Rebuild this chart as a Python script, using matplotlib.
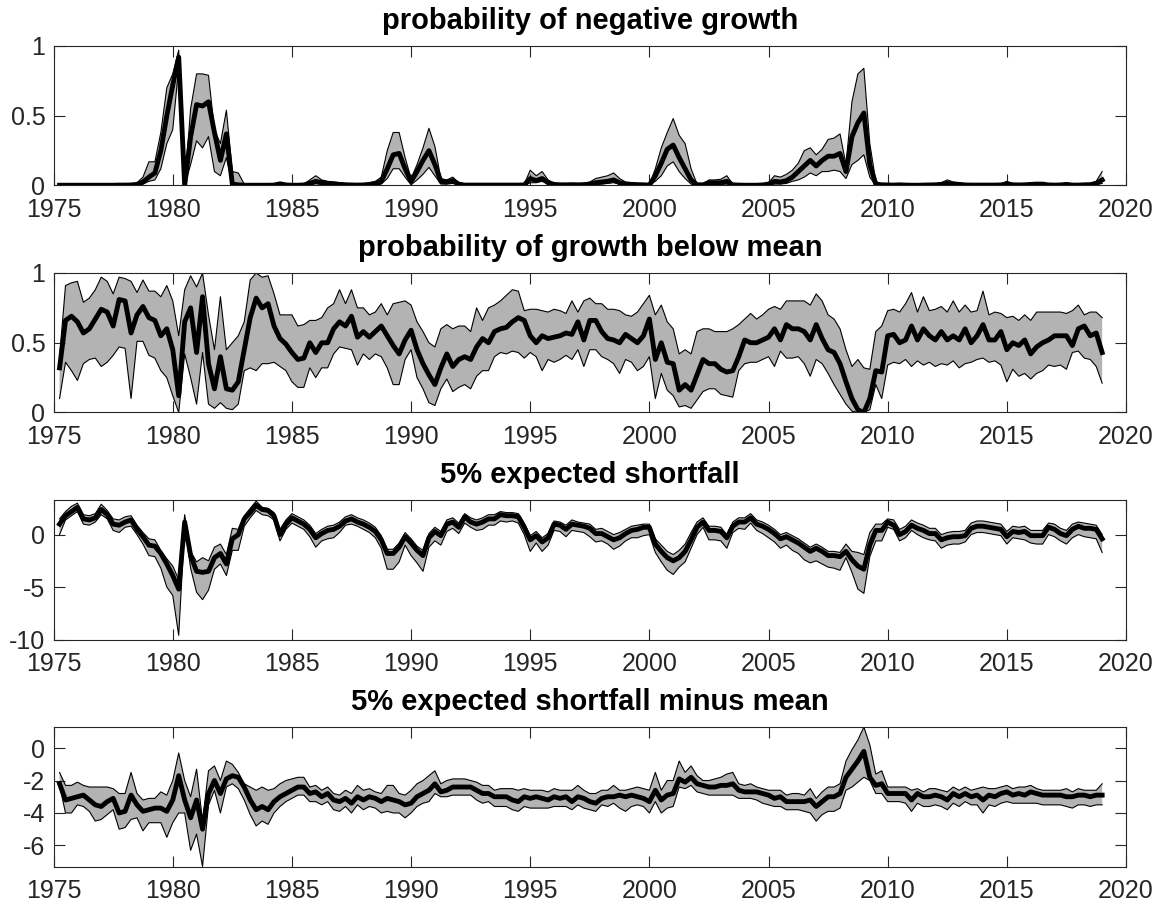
# -*- coding: utf-8 -*-
# Quarterly growth-at-risk measures: median with 68% bands
import matplotlib.pyplot as plt
import numpy as np

# quarterly dates 1975Q2 .. 2019Q1
dates = 1975.25 + 0.25*np.arange(176)

# probability of negative growth
p1_med = [.002,.002,.002,.002, .002,.002,.002,.002, .002,.002,.003,.003, .004,.008,.025,.06,
          .09,.25,.5,.72, .92,.0,.35,.58, .57,.6,.38,.18, .37,.01,.005,.002,
          .002,.002,.002,.002, .003,.012,.004,.002, .002,.004,.015,.03, .02,.015,.012,.008,
          .005,.004,.003,.004, .008,.012,.03,.12, .22,.23,.12,.03, .1,.18,.25,.15,
          .03,.025,.035,.01, .003,.003,.003,.003, .003,.003,.003,.003, .003,.003,.004,.05,
          .035,.05,.02,.008, .005,.005,.006,.005, .006,.01,.02,.025, .03,.04,.02,.01,
          .008,.006,.005,.003, .07,.16,.26,.29, .2,.12,.04,.005, .005,.02,.02,.02,
          .03,.005,.003,.002, .002,.002,.004,.01, .03,.025,.035,.06, .1,.14,.18,.14,
          .18,.21,.21,.23, .1,.35,.45,.52, .15,.01,.005,.004, .003,.005,.003,.002,
          .002,.003,.004,.005, .008,.015,.01,.008, .004,.003,.003,.003, .003,.003,.004,.012,
          .005,.004,.005,.008, .01,.01,.004,.003, .004,.008,.003,.003, .005,.006,.015,.04]
p1_lo = [0,0,0,0, 0,0,0,0, 0,0,0,0, .001,.003,.01,.03,
         .04,.12,.3,.4, .85,.0,.15,.32, .27,.35,.1,.07, .2,0,0,0,
         0,0,0,0, 0,.005,0,0, 0,0,.005,.012, .008,.006,.004,.002,
         0,0,0,0, .002,.004,.01,.05, .12,.12,.06,.005, .04,.08,.13,.07,
         .01,.01,.015,.002, 0,0,0,0, 0,0,0,0, 0,0,0,.02,
         .02,.03,.01,.002, 0,0,0,0, 0,.003,.008,.01, .015,.02,.01,.004,
         .002,.002,.002,0, .03,.07,.14,.17, .1,.05,.01,0, 0,.008,.008,.008,
         .01,0,0,0, 0,0,0,.004, .01,.01,.015,.03, .04,.06,.09,.07,
         .1,.1,.11,.1, .05,.15,.18,.22, .06,0,0,0, 0,0,0,0,
         0,0,0,0, .002,.005,.003,.002, 0,0,0,0, 0,0,0,.004,
         0,0,0,0, .003,.003,0,0, 0,.002,0,0, 0,0,.005,.015]
p1_hi = [.005,.005,.005,.005, .005,.005,.005,.005, .005,.005,.006,.006, .008,.02,.06,.17,
         .17,.38,.7,.8, .97,.0,.55,.8, .8,.79,.4,.3, .54,.1,.09,.01,
         .005,.005,.005,.005, .006,.02,.008,.005, .005,.01,.04,.07, .04,.03,.025,.02,
         .015,.01,.008,.01, .02,.03,.06,.25, .38,.38,.2,.05, .15,.27,.41,.28,
         .05,.04,.06,.02, .008,.008,.008,.008, .008,.008,.008,.008, .008,.008,.01,.11,
         .07,.1,.04,.015, .012,.012,.015,.012, .015,.025,.05,.06, .07,.09,.05,.025,
         .02,.015,.012,.006, .12,.27,.38,.48, .36,.3,.12,.01, .01,.04,.04,.045,
         .07,.01,.005,.005, .005,.005,.01,.02, .07,.06,.08,.11, .16,.25,.27,.22,
         .26,.33,.34,.37, .15,.6,.8,.84, .3,.03,.01,.008, .008,.012,.008,.006,
         .006,.008,.01,.012, .02,.04,.025,.02, .01,.008,.008,.008, .008,.008,.01,.03,
         .012,.01,.012,.015, .02,.02,.01,.008, .01,.018,.008,.008, .012,.015,.03,.1]

# probability of growth below mean
p2_med = [.32,.66,.69,.65, .57,.6,.67,.74, .72,.62,.81,.8, .57,.7,.76,.68,
          .66,.55,.6,.45, .12,.65,.75,.43, .83,.35,.17,.4, .17,.16,.22,.45,
          .68,.82,.75,.78, .62,.53,.49,.43, .38,.39,.5,.43, .5,.5,.6,.65,
          .62,.69,.54,.58, .54,.58,.62,.55, .48,.42,.52,.59, .45,.35,.27,.2,
          .32,.42,.33,.38, .4,.38,.47,.53, .5,.58,.6,.61, .65,.68,.66,.55,
          .5,.55,.53,.54, .55,.57,.56,.65, .52,.66,.66,.58, .53,.52,.5,.56,
          .53,.5,.55,.67, .38,.5,.36,.35, .16,.2,.16,.27, .38,.35,.35,.31,
          .29,.3,.4,.52, .5,.5,.52,.54, .6,.52,.63,.6, .6,.58,.52,.63,
          .53,.45,.43,.35, .22,.1,.02,.0, .1,.3,.29,.55, .56,.5,.52,.62,
          .52,.6,.55,.52, .58,.52,.55,.52, .6,.5,.55,.63, .52,.52,.58,.45,
          .5,.48,.52,.42, .47,.5,.52,.55, .55,.55,.48,.6, .62,.55,.57,.43]
p2_lo = [.1,.36,.3,.23, .35,.38,.39,.33, .36,.41,.47,.46, .1,.51,.51,.41,
         .39,.3,.25,.12, .0,.42,.25,.06, .43,.06,.03,.07, .03,.02,.06,.3,
         .32,.3,.35,.35, .36,.33,.3,.22, .18,.18,.32,.25, .32,.32,.42,.47,
         .46,.45,.34,.42, .38,.42,.4,.32, .2,.2,.38,.45, .25,.17,.07,.05,
         .17,.24,.15,.18, .2,.17,.26,.3, .3,.4,.43,.42, .44,.43,.39,.43,
         .4,.3,.38,.36, .38,.41,.38,.45, .33,.45,.45,.4, .38,.35,.28,.38,
         .36,.3,.33,.4, .1,.28,.16,.12, .04,.05,.03,.09, .15,.17,.17,.13,
         .12,.11,.3,.35, .36,.36,.38,.4, .33,.44,.39,.39, .4,.35,.26,.38,
         .35,.28,.2,.13, .06,.01,.0,.0, .02,.2,.1,.34, .36,.35,.38,.33,
         .37,.34,.36,.33, .35,.34,.37,.32, .35,.36,.38,.39, .36,.37,.34,.22,
         .31,.26,.28,.24, .28,.3,.34,.33, .34,.31,.43,.44, .39,.38,.33,.21]
p2_hi = [.4,.91,.93,.94, .79,.82,.88,.97, .94,.85,.97,.96, .94,.86,.95,.87,
         .87,.83,.91,.8, .55,.88,.98,.9, 1.0,.7,.45,.83, .45,.5,.55,.65,
         .95,1.0,.97,.98, .85,.7,.7,.7, .62,.63,.66,.66, .68,.75,.78,.88,
         .78,.88,.75,.75, .7,.72,.78,.7, .78,.79,.8,.77, .65,.58,.5,.47,
         .6,.63,.6,.62, .62,.58,.75,.66, .75,.77,.8,.84, .88,.87,.73,.74,
         .74,.73,.72,.74, .73,.71,.8,.72, .8,.82,.78,.78, .74,.74,.73,.7,
         .69,.72,.78,.84, .7,.77,.65,.6, .42,.45,.42,.58, .6,.6,.58,.58,
         .58,.6,.63,.67, .71,.67,.7,.74, .76,.74,.8,.8, .8,.8,.77,.85,
         .8,.7,.67,.6, .45,.33,.38,.32, .31,.58,.62,.73, .74,.72,.78,.86,
         .72,.83,.73,.74, .76,.72,.8,.72, .77,.72,.73,.87, .7,.72,.71,.68,
         .69,.66,.7,.66, .72,.72,.72,.72, .72,.71,.73,.77, .7,.72,.72,.68]

# 5% expected shortfall
p3_med = [1.0,1.8,2.2,2.6, 1.5,1.4,1.6,2.4, 1.9,1.0,0.9,1.2, 1.4,0.5,-0.2,-1.0,
          -1.1,-1.8,-2.8,-3.9, -5.2,1.2,-2.0,-3.5, -3.6,-3.5,-2.2,-1.8, -2.8,-0.4,0.0,1.5,
          2.1,2.8,2.4,2.3, 1.8,0.0,1.0,1.6, 1.3,1.0,0.5,-0.3, 0.1,0.4,0.5,0.8,
          1.3,1.5,1.2,1.0, 0.7,0.3,-0.5,-1.8, -1.8,-1.2,-0.2,-0.8, -1.5,-2.0,-0.3,0.3,
          -0.1,1.0,1.2,0.7, 1.7,1.2,1.0,1.2, 1.5,1.5,1.9,1.8, 1.8,1.7,0.7,-0.5,
          -0.1,-0.7,-0.3,1.0, 0.9,0.5,1.0,0.9, 0.8,0.6,0.1,0.1, -0.2,-0.5,-0.3,0.1,
          0.4,0.5,0.7,0.7, -0.9,-1.6,-2.2,-2.5, -2.2,-1.6,-0.5,0.7, 1.2,0.4,0.4,0.3,
          -0.3,0.8,1.2,1.2, 1.6,1.0,0.8,0.5, 0.1,-0.4,-0.2,-0.5, -0.8,-1.2,-1.6,-1.3,
          -1.6,-2.0,-2.0,-2.1, -1.6,-2.4,-3.0,-3.3, -1.0,0.4,0.4,1.2, 0.9,0.0,0.3,0.9,
          0.6,0.4,0.1,0.1, -0.5,-0.3,-0.2,-0.2, -0.1,0.6,0.8,0.8, 0.7,0.6,0.5,-0.2,
          0.3,0.2,0.3,-0.1, -0.1,-0.1,0.7,0.5, 0.1,-0.1,0.5,0.8, 0.6,0.6,0.5,-0.4]
p3_lo = [0.0,1.4,1.8,2.2, 1.0,0.9,1.2,1.9, 1.5,0.4,0.2,0.7, 0.8,0.0,-0.9,-2.0,
         -2.1,-3.2,-5.0,-5.8, -9.6,0.8,-3.2,-5.5, -6.2,-5.3,-3.3,-2.8, -3.9,-1.5,-1.5,0.8,
         1.6,2.3,1.9,1.8, 1.4,-0.6,0.5,1.1, 0.8,0.5,-0.2,-1.2, -0.6,-0.4,-0.3,0.2,
         0.9,1.0,0.8,0.5, 0.2,-0.3,-1.3,-3.3, -3.3,-2.6,-1.0,-2.0, -2.7,-3.5,-1.2,-0.6,
         -1.0,0.3,0.6,0.1, 1.1,0.7,0.4,0.5, 0.9,0.9,1.3,1.2, 1.3,1.1,0.0,-1.6,
         -0.8,-1.6,-1.0,0.4, 0.3,-0.2,0.4,0.3, 0.2,-0.2,-0.7,-0.6, -0.9,-1.4,-1.1,-0.6,
         -0.3,-0.3,-0.1,0.0, -1.7,-2.6,-3.4,-3.8, -3.1,-2.6,-1.3,0.0, 0.7,-0.5,-0.5,-0.6,
         -1.3,0.2,0.6,0.5, 1.1,0.4,0.1,-0.3, -0.7,-1.3,-1.0,-1.5, -1.8,-2.4,-2.7,-2.5,
         -2.8,-3.1,-3.2,-3.4, -2.2,-3.6,-5.2,-5.6, -2.1,-0.6,-0.6,0.7, 0.5,-0.6,-0.3,0.4,
         0.0,-0.3,-0.5,-0.6, -1.3,-1.0,-0.9,-0.9, -0.7,0.0,0.2,0.2, 0.1,0.0,-0.1,-0.9,
         -0.3,-0.4,-0.5,-0.8, -0.9,-0.9,0.0,-0.2, -0.6,-0.9,-0.3,0.0, -0.2,-0.3,-0.4,-1.7]
p3_hi = [1.5,2.2,2.7,3.0, 1.9,1.8,2.0,2.9, 2.3,1.5,1.4,1.7, 1.8,0.9,0.2,-0.4,
         -0.5,-1.5,-2.3,-3.0, -4.3,1.9,-1.6,-2.6, -2.2,-2.5,-1.2,-0.9, -1.9,0.6,0.5,1.8,
         2.5,3.2,2.6,2.5, 2.1,0.5,1.4,2.0, 1.7,1.4,0.9,0.1, 0.5,0.8,0.9,1.2,
         1.7,1.9,1.6,1.4, 1.1,0.7,-0.1,-1.4, -1.4,-0.8,0.2,-0.4, -1.1,-1.5,0.1,0.7,
         0.3,1.4,1.6,1.1, 2.0,1.6,1.4,1.6, 1.9,1.9,2.2,2.1, 2.1,2.0,1.1,-0.1,
         0.3,-0.3,0.1,1.3, 1.2,0.9,1.4,1.2, 1.1,1.0,0.5,0.6, 0.3,0.0,0.2,0.5,
         0.8,0.9,1.0,1.0, -0.4,-1.0,-1.6,-1.9, -1.5,-0.9,0.2,1.2, 1.6,0.8,0.8,0.7,
         0.0,1.2,1.6,1.6, 2.0,1.4,1.2,0.9, 0.5,0.0,0.2,-0.1, -0.4,-0.8,-1.2,-0.9,
         -1.2,-1.6,-1.6,-1.7, -0.9,-1.6,-1.7,-1.9, 0.2,1.0,1.0,1.5, 1.4,0.5,0.8,1.4,
         1.1,0.9,0.6,0.6, 0.0,0.2,0.3,0.3, 0.4,1.1,1.3,1.3, 1.2,1.1,1.0,0.3,
         0.8,0.7,0.8,0.4, 0.4,0.4,1.1,1.0, 0.6,0.4,1.0,1.2, 1.1,1.0,0.9,0.0]

# 5% expected shortfall minus mean
p4_med = [-2.2,-3.2,-3.1,-3.0, -2.9,-3.2,-3.5,-3.6, -3.3,-3.1,-4.0,-3.9, -2.9,-3.5,-3.9,-3.8,
          -3.7,-3.7,-3.9,-3.2, -1.7,-3.2,-4.3,-3.2, -5.0,-2.8,-2.0,-2.8, -1.9,-1.7,-1.8,-2.4,
          -3.2,-3.8,-3.6,-3.8, -3.3,-3.0,-2.8,-2.6, -2.4,-2.4,-2.8,-2.7, -3.0,-2.8,-3.2,-3.3,
          -3.1,-3.4,-3.0,-3.2, -3.0,-3.1,-3.3,-3.1, -3.2,-3.3,-3.5,-3.4, -3.0,-2.8,-2.6,-2.2,
          -2.7,-2.6,-2.4,-2.4, -2.4,-2.4,-2.6,-2.8, -2.8,-3.0,-3.0,-3.0, -3.2,-3.3,-3.0,-3.1,
          -3.0,-3.1,-3.2,-3.0, -3.1,-3.0,-3.3,-3.0, -3.1,-3.3,-3.4,-3.1, -3.0,-3.0,-2.9,-3.0,
          -2.9,-3.0,-3.1,-3.3, -2.6,-3.2,-2.9,-2.8, -1.9,-2.1,-1.8,-2.2, -2.3,-2.4,-2.4,-2.3,
          -2.3,-2.2,-2.6,-2.7, -2.7,-2.7,-2.8,-2.9, -3.1,-3.0,-3.3,-3.3, -3.3,-3.3,-3.2,-3.6,
          -3.3,-3.0,-3.0,-2.8, -1.8,-1.3,-0.8,-0.2, -1.8,-2.3,-2.2,-2.8, -2.8,-2.8,-2.8,-3.2,
          -2.8,-3.0,-3.0,-2.9, -3.0,-3.2,-2.8,-3.0, -2.8,-3.0,-2.9,-3.2, -2.9,-3.0,-2.8,-2.7,
          -2.9,-2.8,-2.9,-2.7, -2.8,-2.9,-2.9,-2.9, -2.9,-3.0,-3.0,-2.9, -2.9,-3.0,-2.9,-2.9]
p4_lo = [-2.3,-4.0,-4.0,-3.5, -3.6,-3.9,-4.5,-4.4, -4.1,-3.8,-5.0,-4.9, -4.4,-4.3,-5.1,-4.6,
         -4.6,-4.6,-5.5,-4.6, -4.0,-4.0,-6.3,-5.3, -7.3,-3.5,-2.6,-4.0, -2.4,-2.2,-2.5,-3.2,
         -4.1,-4.8,-4.5,-4.7, -4.0,-3.6,-3.3,-3.1, -2.9,-2.9,-3.3,-3.3, -3.5,-3.3,-3.8,-3.9,
         -3.6,-4.0,-3.5,-3.8, -3.6,-3.7,-4.0,-3.9, -4.0,-4.0,-4.3,-4.0, -3.6,-3.4,-3.3,-2.8,
         -3.0,-3.0,-2.9,-2.9, -2.9,-2.9,-3.2,-3.4, -3.3,-3.6,-3.6,-3.6, -3.8,-3.9,-3.6,-3.7,
         -3.7,-3.7,-3.7,-3.6, -3.6,-3.6,-3.8,-3.5, -3.7,-3.8,-3.9,-3.5, -3.6,-3.4,-3.7,-3.9,
         -3.6,-3.5,-3.6,-4.0, -3.3,-4.0,-3.7,-3.6, -2.4,-2.5,-2.3,-2.7, -2.8,-2.9,-2.9,-2.9,
         -2.9,-2.9,-3.1,-3.1, -3.1,-3.2,-3.4,-3.5, -3.6,-3.6,-3.8,-3.8, -3.8,-3.9,-4.0,-4.5,
         -4.1,-3.9,-3.9,-3.7, -2.6,-2.4,-2.1,-1.8, -2.0,-2.8,-2.8,-3.3, -3.3,-3.3,-3.4,-3.9,
         -3.4,-3.6,-3.6,-3.5, -3.6,-3.8,-3.4,-3.6, -3.3,-3.5,-3.5,-4.0, -3.5,-3.6,-3.4,-3.3,
         -3.4,-3.4,-3.4,-3.4, -3.4,-3.5,-3.5,-3.5, -3.5,-3.6,-3.7,-3.5, -3.5,-3.6,-3.5,-3.5]
p4_hi = [-1.5,-2.3,-2.3,-2.1, -2.3,-2.4,-2.4,-2.4, -2.4,-2.5,-2.8,-2.8, -1.5,-2.8,-3.2,-3.1,
         -3.1,-2.7,-2.9,-2.0, -0.3,-2.0,-3.0,-1.3, -4.5,-1.4,-1.1,-2.0, -0.8,-1.0,-1.5,-2.2,
         -2.4,-2.6,-2.4,-2.6, -2.5,-2.2,-2.0,-1.9, -1.8,-1.8,-2.4,-2.3, -2.6,-2.4,-2.8,-2.9,
         -2.6,-2.8,-2.3,-2.6, -2.5,-2.7,-2.8,-2.3, -2.3,-2.8,-2.9,-2.6, -2.2,-2.0,-1.7,-1.4,
         -2.2,-2.0,-1.9,-1.9, -1.9,-2.0,-2.1,-2.3, -2.3,-2.6,-2.5,-2.5, -2.5,-2.6,-2.5,-2.6,
         -2.6,-2.6,-2.7,-2.5, -2.6,-2.6,-2.6,-2.3, -2.6,-2.8,-2.8,-2.6, -2.6,-2.3,-2.6,-2.6,
         -2.5,-2.4,-2.5,-2.6, -1.5,-2.6,-2.0,-2.0, -0.8,-1.5,-1.1,-1.7, -2.0,-2.0,-1.9,-1.8,
         -1.6,-1.5,-2.2,-2.3, -2.2,-2.4,-2.5,-2.6, -2.6,-2.6,-2.9,-2.8, -2.8,-2.9,-2.5,-3.1,
         -2.7,-2.4,-2.4,-2.2, -0.8,-0.1,0.5,1.3, 0.2,-1.6,-1.4,-2.4, -2.4,-2.4,-2.4,-2.6,
         -2.5,-2.7,-2.5,-2.5, -2.6,-2.7,-2.4,-2.6, -2.4,-2.6,-2.5,-2.4, -2.5,-2.5,-2.4,-2.3,
         -2.5,-2.4,-2.4,-2.3, -2.5,-2.6,-2.6,-2.6, -2.6,-2.5,-2.7,-2.5, -2.6,-2.6,-2.6,-2.2]

titles = ['probability of negative growth', 'probability of growth below mean',
          '5% expected shortfall', '5% expected shortfall minus mean']
ylims = [(0, 1), (0, 1), (-10, 3.3), (-7.3, 1.3)]
yticks = [[0, 0.5, 1], [0, 0.5, 1], [-10, -5, 0], [-6, -4, -2, 0]]
yticklabels = [['0', '0.5', '1'], ['0', '0.5', '1'], ['-10', '-5', '0'], ['-6', '-4', '-2', '0']]
series = [(p1_lo, p1_med, p1_hi), (p2_lo, p2_med, p2_hi),
          (p3_lo, p3_med, p3_hi), (p4_lo, p4_med, p4_hi)]

plt.rcParams['font.family'] = ['Liberation Sans', 'DejaVu Sans']
axcol = '#262626'

W, H = 1156, 905
fig = plt.figure(figsize=(W/100, H/100), dpi=100)

left, right = 53.6, 1126
tops = [46, 273, 500, 727]
hgt = 139.5

for k in range(4):
    ax = fig.add_axes([left/W, 1 - (tops[k] + hgt)/H, (right - left)/W, hgt/H])
    lo, med, hi = [np.array(s) for s in series[k]]
    ax.fill_between(dates, lo, hi, facecolor='#b3b3b3', edgecolor='none', zorder=1)
    ax.plot(dates, lo, 'k-', lw=0.8, zorder=2)
    ax.plot(dates, hi, 'k-', lw=0.8, zorder=2)
    ax.plot(dates, med, 'k-', lw=3.5, zorder=3, solid_joinstyle='round')

    ax.set_xlim(1975, 2020)
    ax.set_ylim(*ylims[k])
    ax.set_xticks(np.arange(1975, 2021, 5))
    ax.set_yticks(yticks[k])
    ax.set_yticklabels(yticklabels[k])
    ax.tick_params(direction='in', length=7.8, width=0.8, colors=axcol,
                   labelsize=18, top=True, right=True)
    ax.tick_params(axis='x', pad=9)
    ax.tick_params(axis='y', pad=6)
    for sp in ax.spines.values():
        sp.set_color(axcol)
        sp.set_linewidth(0.8)
    ax.set_title(titles[k], fontsize=21, fontweight='bold', pad=12)

fig.savefig('out.png', dpi=100)
